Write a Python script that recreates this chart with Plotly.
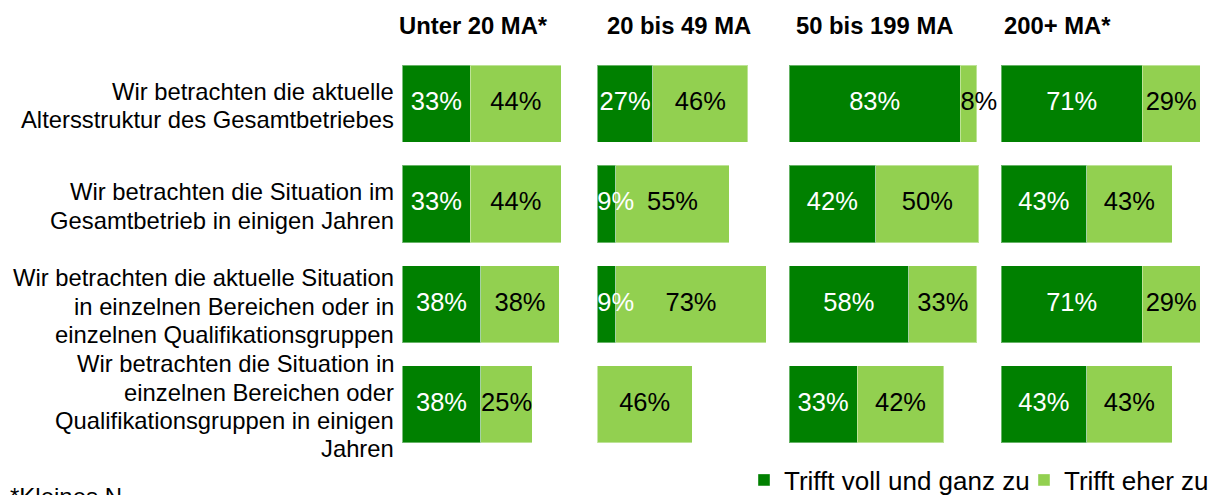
import plotly.graph_objects as go

# ---------------- data ----------------
groups = ["Unter 20 MA*", "20 bis 49 MA", "50 bis 199 MA", "200+ MA*"]
categories = [
    "Wir betrachten die aktuelle<br>Altersstruktur des Gesamtbetriebes",
    "Wir betrachten die Situation im<br>Gesamtbetrieb in einigen Jahren",
    "Wir betrachten die aktuelle Situation<br>in einzelnen Bereichen oder in<br>einzelnen Qualifikationsgruppen",
    "Wir betrachten die Situation in<br>einzelnen Bereichen oder<br>Qualifikationsgruppen in einigen<br>Jahren",
]
series_names = ["Trifft voll und ganz zu", "Trifft eher zu"]

voll_unter20 = [33, 33, 38, 38]
eher_unter20 = [44, 44, 38, 25]
voll_20_49 = [27, 9, 9, 0]
eher_20_49 = [46, 55, 73, 46]
voll_50_199 = [83, 42, 58, 33]
eher_50_199 = [8, 50, 33, 42]
voll_200 = [71, 43, 71, 43]
eher_200 = [29, 43, 29, 43]

voll = [voll_unter20, voll_20_49, voll_50_199, voll_200]
eher = [eher_unter20, eher_20_49, eher_50_199, eher_200]

footnote = "*Kleines N"

# ---------------- style / layout ----------------
W, H = 1216, 495
OFF = 8  # page body margin of the written html page
DARK = "#008000"
LIGHT = "#92D050"
EDGE = "rgba(255,255,255,0.4)"
FONT = "Arial, 'Liberation Sans', sans-serif"


def fx(px):  # screen px -> paper x
    return (px - OFF) / W


def fy(py):  # screen px -> paper y
    return 1 - (py - OFF) / H


panel_left_px = [402.3, 597.3, 789.0, 1001.0]
panel_width_px = [192.0, 190.0, 210.0, 214.0]
px_per_pct = [2.065, 2.06, 2.065, 1.99]
header_left_px = [397, 605, 794, 1002]
plot_top_px, plot_bottom_px = 53.65, 454.45
LINE_PITCH = 28.3

fig = go.Figure()

for g in range(4):
    ax = "x" if g == 0 else f"x{g+1}"
    fig.add_trace(go.Bar(
        y=categories, x=voll[g], orientation="h", name=series_names[0],
        marker=dict(color=DARK, line=dict(width=1, color=EDGE)), xaxis=ax, yaxis="y",
        showlegend=(g == 0), legendgroup="voll", hoverinfo="skip", width=0.77,
    ))
    fig.add_trace(go.Bar(
        y=categories, x=eher[g], orientation="h", name=series_names[1],
        marker=dict(color=LIGHT, line=dict(width=1, color=EDGE)), xaxis=ax, yaxis="y",
        showlegend=(g == 0), legendgroup="eher", hoverinfo="skip", width=0.77,
    ))
    # value labels
    for s, (vals, col) in enumerate([(voll[g], "white"), (eher[g], "black")]):
        xs, ys, txt, pos = [], [], [], []
        for i, v in enumerate(vals):
            if v <= 0:
                continue
            start = 0 if s == 0 else voll[g][i]
            if v < 10:
                xs.append(start)
                pos.append("middle right")
            else:
                xs.append(start + v / 2)
                pos.append("middle center")
            ys.append(categories[i])
            txt.append(f"{v}%")
        fig.add_trace(go.Scatter(
            x=xs, y=ys, text=txt, mode="text", textposition=pos,
            textfont=dict(family=FONT, size=25.5, color=col),
            xaxis=ax, yaxis="y", showlegend=False, hoverinfo="skip",
            cliponaxis=False,
        ))

layout = dict(
    width=W, height=H,
    margin=dict(l=0, r=0, t=0, b=0, autoexpand=False),
    paper_bgcolor="white", plot_bgcolor="rgba(0,0,0,0)",
    barmode="stack",
    font=dict(family=FONT, color="black"),
    showlegend=True,
    legend=dict(
        orientation="h", x=fx(744), xanchor="left", y=fy(480), yanchor="middle",
        font=dict(family=FONT, size=26, color="black"),
        bgcolor="rgba(0,0,0,0)", itemclick=False, itemdoubleclick=False,
        tracegroupgap=0, entrywidthmode="pixels", entrywidth=235,
    ),
    yaxis=dict(
        domain=[fy(plot_bottom_px), fy(plot_top_px)],
        type="category", categoryorder="array", categoryarray=categories,
        range=[3.5, -0.5], showgrid=False, zeroline=False, showline=False,
        ticks="", showticklabels=False, anchor="x", fixedrange=True,
    ),
)
for g in range(4):
    key = "xaxis" if g == 0 else f"xaxis{g+1}"
    layout[key] = dict(
        domain=[fx(panel_left_px[g]), fx(panel_left_px[g] + panel_width_px[g])],
        range=[0, panel_width_px[g] / px_per_pct[g]],
        showgrid=False, zeroline=False, showline=False, showticklabels=False,
        ticks="", anchor="y", fixedrange=True,
    )

annotations = []
# category labels, one line at a time (tight line spacing like the original)
for cat in categories:
    lines = cat.split("<br>")
    n = len(lines)
    for k, line in enumerate(lines):
        annotations.append(dict(
            text=line, xref="paper", yref="y", x=fx(396), y=cat,
            xanchor="right", yanchor="middle",
            yshift=-((k - (n - 1) / 2) * LINE_PITCH) - 2,
            showarrow=False, font=dict(family=FONT, size=23.8, color="black"),
        ))
for g in range(4):
    annotations.append(dict(
        text=f"<b>{groups[g]}</b>", xref="paper", yref="paper",
        x=fx(header_left_px[g]), xanchor="left", y=fy(25), yanchor="middle",
        showarrow=False, font=dict(family=FONT, size=23.8, color="black"),
    ))
annotations.append(dict(
    text=footnote, xref="paper", yref="paper", x=0, xanchor="left",
    y=fy(481), yanchor="top", showarrow=False,
    font=dict(family=FONT, size=24, color="black"),
))
layout["annotations"] = annotations

fig.update_layout(**layout)
fig.write_html("out.html")
